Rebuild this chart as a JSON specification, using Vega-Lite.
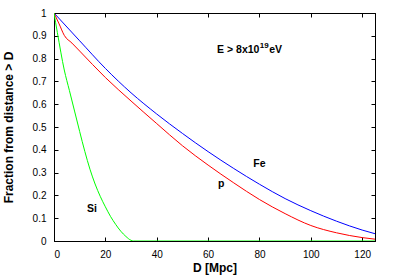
{
  "$schema": "https://vega.github.io/schema/vega-lite/v6.json",
  "width": 321,
  "height": 228,
  "autosize": "none",
  "padding": {"left": 54, "top": 13, "right": 20, "bottom": 36},
  "background": "white",
  "config": {
    "view": {"stroke": "black", "strokeWidth": 1},
    "font": "Liberation Sans",
    "axis": {
      "grid": false,
      "domainColor": "black",
      "domainWidth": 1,
      "tickColor": "black",
      "tickSize": -4,
      "tickWidth": 1,
      "labelColor": "black",
      "labelFont": "Liberation Sans",
      "labelFontSize": 10,
      "labelPadding": 12,
      "titleFont": "Liberation Sans",
      "titleFontSize": 12,
      "titleFontWeight": "bold",
      "titleColor": "black"
    }
  },
  "datasets": {
    "curves": [
      {"s": "Fe", "D": 0, "F": 1.0},
      {"s": "Fe", "D": 10, "F": 0.878},
      {"s": "Fe", "D": 20, "F": 0.757},
      {"s": "Fe", "D": 30, "F": 0.65},
      {"s": "Fe", "D": 40, "F": 0.557},
      {"s": "Fe", "D": 50, "F": 0.472},
      {"s": "Fe", "D": 60, "F": 0.392},
      {"s": "Fe", "D": 70, "F": 0.318},
      {"s": "Fe", "D": 80, "F": 0.249},
      {"s": "Fe", "D": 90, "F": 0.186},
      {"s": "Fe", "D": 100, "F": 0.133},
      {"s": "Fe", "D": 110, "F": 0.087},
      {"s": "Fe", "D": 120, "F": 0.048},
      {"s": "Fe", "D": 125, "F": 0.032},
      {"s": "p", "D": 0, "F": 1.0},
      {"s": "p", "D": 2, "F": 0.952},
      {"s": "p", "D": 4, "F": 0.902},
      {"s": "p", "D": 7, "F": 0.868},
      {"s": "p", "D": 10, "F": 0.833},
      {"s": "p", "D": 20, "F": 0.717},
      {"s": "p", "D": 30, "F": 0.614},
      {"s": "p", "D": 40, "F": 0.515},
      {"s": "p", "D": 50, "F": 0.418},
      {"s": "p", "D": 60, "F": 0.333},
      {"s": "p", "D": 70, "F": 0.255},
      {"s": "p", "D": 80, "F": 0.182},
      {"s": "p", "D": 90, "F": 0.12},
      {"s": "p", "D": 100, "F": 0.068},
      {"s": "p", "D": 110, "F": 0.036},
      {"s": "p", "D": 120, "F": 0.015},
      {"s": "p", "D": 125, "F": 0.008},
      {"s": "Si", "D": 0, "F": 1.0},
      {"s": "Si", "D": 1.3, "F": 0.915},
      {"s": "Si", "D": 4, "F": 0.75},
      {"s": "Si", "D": 6, "F": 0.66},
      {"s": "Si", "D": 8, "F": 0.57},
      {"s": "Si", "D": 10, "F": 0.48},
      {"s": "Si", "D": 12, "F": 0.393},
      {"s": "Si", "D": 14, "F": 0.315},
      {"s": "Si", "D": 16, "F": 0.25},
      {"s": "Si", "D": 18, "F": 0.196},
      {"s": "Si", "D": 20, "F": 0.15},
      {"s": "Si", "D": 22, "F": 0.108},
      {"s": "Si", "D": 24, "F": 0.073},
      {"s": "Si", "D": 26, "F": 0.043},
      {"s": "Si", "D": 28, "F": 0.02},
      {"s": "Si", "D": 30, "F": 0.003},
      {"s": "Si", "D": 31, "F": 0},
      {"s": "Si", "D": 60, "F": 0},
      {"s": "Si", "D": 125, "F": 0}
    ],
    "labels": [
      {"t": "Fe", "D": 80, "F": 0.326},
      {"t": "p", "D": 65.1, "F": 0.235},
      {"t": "Si", "D": 14.8, "F": 0.128}
    ],
    "energy": [
      {"t": "E > 8x10", "D": 63.5, "F": 0.825}
    ],
    "sup": [
      {"t": "19", "D": 80.1, "F": 0.845}
    ],
    "ev": [
      {"t": "eV", "D": 83.8, "F": 0.825}
    ]
  },
  "layer": [
    {
      "data": {"name": "curves"},
      "mark": {"type": "line", "interpolate": "monotone", "strokeWidth": 1, "clip": true},
      "encoding": {
        "x": {
          "field": "D", "type": "quantitative",
          "scale": {"domain": [0, 125], "nice": false},
          "axis": {"orient": "bottom", "values": [0, 20, 40, 60, 80, 100, 120], "title": "D [Mpc]", "titlePadding": 3}
        },
        "y": {
          "field": "F", "type": "quantitative",
          "scale": {"domain": [0, 1], "nice": false},
          "axis": {"orient": "left", "values": [0, 0.1, 0.2, 0.3, 0.4, 0.5, 0.6, 0.7, 0.8, 0.9, 1], "format": "~g", "title": "Fraction from distance > D", "titlePadding": 17}
        },
        "color": {
          "field": "s", "type": "nominal",
          "scale": {"domain": ["Fe", "p", "Si"], "range": ["#0000ff", "#ff0000", "#00ff00"]},
          "legend": null
        }
      }
    },
    {
      "data": {"name": "curves"},
      "mark": {"type": "line", "opacity": 0},
      "encoding": {
        "x": {
          "field": "D", "type": "quantitative",
          "axis": {"orient": "top", "values": [0, 20, 40, 60, 80, 100, 120], "labels": false, "title": null}
        },
        "y": {
          "field": "F", "type": "quantitative",
          "axis": {"orient": "right", "values": [0, 0.1, 0.2, 0.3, 0.4, 0.5, 0.6, 0.7, 0.8, 0.9, 1], "labels": false, "title": null}
        },
        "detail": {"field": "s"}
      }
    },
    {
      "data": {"name": "labels"},
      "mark": {"type": "text", "align": "center", "baseline": "alphabetic", "fontSize": 10.5, "fontWeight": "bold", "color": "black"},
      "encoding": {
        "x": {"field": "D", "type": "quantitative", "axis": null},
        "y": {"field": "F", "type": "quantitative", "axis": null},
        "text": {"field": "t"}
      }
    },
    {
      "data": {"name": "energy"},
      "mark": {"type": "text", "align": "left", "baseline": "alphabetic", "fontSize": 10.5, "fontWeight": "bold", "color": "black"},
      "encoding": {
        "x": {"field": "D", "type": "quantitative", "axis": null},
        "y": {"field": "F", "type": "quantitative", "axis": null},
        "text": {"field": "t"}
      }
    },
    {
      "data": {"name": "sup"},
      "mark": {"type": "text", "align": "left", "baseline": "alphabetic", "fontSize": 8, "fontWeight": "bold", "color": "black"},
      "encoding": {
        "x": {"field": "D", "type": "quantitative", "axis": null},
        "y": {"field": "F", "type": "quantitative", "axis": null},
        "text": {"field": "t"}
      }
    },
    {
      "data": {"name": "ev"},
      "mark": {"type": "text", "align": "left", "baseline": "alphabetic", "fontSize": 10.5, "fontWeight": "bold", "color": "black"},
      "encoding": {
        "x": {"field": "D", "type": "quantitative", "axis": null},
        "y": {"field": "F", "type": "quantitative", "axis": null},
        "text": {"field": "t"}
      }
    }
  ],
  "resolve": {"axis": {"x": "independent", "y": "independent"}}
}
